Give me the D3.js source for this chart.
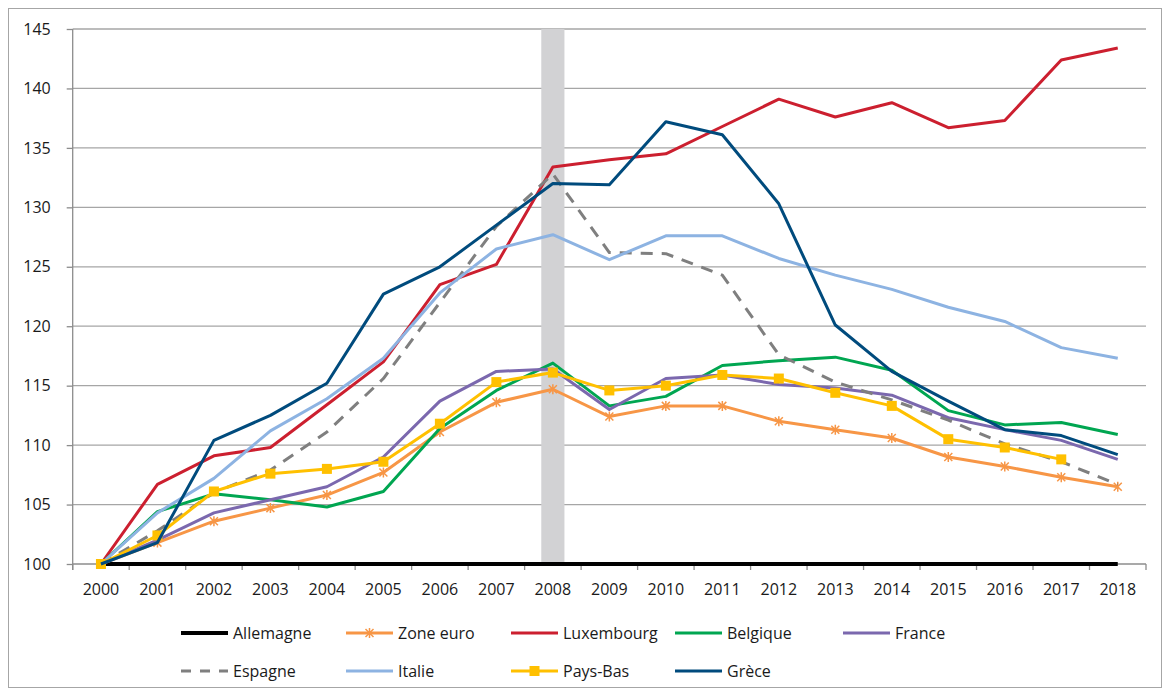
<!DOCTYPE html>
<html>
<head>
<meta charset="utf-8">
<script src="https://cdn.jsdelivr.net/npm/d3@7"></script>
<style>
  body { margin: 0; background: #fff; }
  svg text { font-family: "Open Sans", "Liberation Sans", sans-serif; fill: #1a1a1a; }
</style>
</head>
<body>
<svg width="1164" height="689"></svg>
<script>
var years = d3.range(2000, 2019).map(String);
var yTicks = [100, 105, 110, 115, 120, 125, 130, 135, 140, 145];
var highlightYear = "2008";

var allemagne = [100,100,100,100,100,100,100,100,100,100,100,100,100,100,100,100,100,100,100];
var zoneEuro = [100,101.8,103.6,104.7,105.8,107.7,111.1,113.6,114.7,112.4,113.3,113.3,112.0,111.3,110.6,109.0,108.2,107.3,106.5];
var luxembourg = [100,106.7,109.1,109.8,113.4,117.0,123.5,125.2,133.4,134.0,134.5,136.8,139.1,137.6,138.8,136.7,137.3,142.4,143.4];
var belgique = [100,104.4,105.9,105.4,104.8,106.1,111.4,114.6,116.9,113.3,114.1,116.7,117.1,117.4,116.3,112.9,111.7,111.9,110.9];
var france = [100,102.0,104.3,105.4,106.5,109.0,113.7,116.2,116.4,113.0,115.6,115.9,115.1,114.8,114.2,112.3,111.3,110.4,108.8];
var espagne = [100,102.8,106.0,107.9,111.1,115.6,122.0,128.4,132.8,126.2,126.1,124.3,117.6,115.3,113.8,112.1,110.1,108.6,106.7];
var italie = [100,104.3,107.2,111.2,113.9,117.3,122.8,126.5,127.7,125.6,127.6,127.6,125.7,124.3,123.1,121.6,120.4,118.2,117.3];
var paysBas = [100,102.4,106.1,107.6,108.0,108.6,111.8,115.3,116.1,114.6,115.0,115.9,115.6,114.4,113.3,110.5,109.8,108.8,null];
var grece = [100,101.8,110.4,112.5,115.2,122.7,125.0,128.5,132.0,131.9,137.2,136.1,130.3,120.1,116.2,113.7,111.3,110.8,109.2];

var series = [
  { name: "Allemagne",  values: allemagne,  color: "#000000", width: 4 },
  { name: "Zone euro",  values: zoneEuro,   color: "#F79646", width: 3, marker: "star" },
  { name: "Luxembourg", values: luxembourg, color: "#CC1F2F", width: 3 },
  { name: "Belgique",   values: belgique,   color: "#00A651", width: 3 },
  { name: "France",     values: france,     color: "#7B68AE", width: 3 },
  { name: "Espagne",    values: espagne,    color: "#7F7F7F", width: 3, dash: "12,9" },
  { name: "Italie",     values: italie,     color: "#8DB3E2", width: 3 },
  { name: "Pays-Bas",   values: paysBas,    color: "#FFC000", width: 3, marker: "square" },
  { name: "Grèce",      values: grece,      color: "#004B7D", width: 3 }
];

(function() {
  var svg = d3.select("svg");
  var plotLeft = 72.7, plotRight = 1146, plotTop = 29, plotBottom = 564;

  // chart frame
  svg.append("rect")
    .attr("x", 8.5).attr("y", 8.5).attr("width", 1153).attr("height", 679)
    .attr("fill", "none").attr("stroke", "#a6a6a6").attr("stroke-width", 1);

  var x = d3.scaleBand().domain(years).range([plotLeft, plotRight]);
  var y = d3.scaleLinear().domain([100, 145]).range([plotBottom, plotTop]);
  var cx = function(d) { return x(d) + x.bandwidth() / 2; };

  // gridlines
  svg.append("g")
    .selectAll("line")
    .data(yTicks.slice(1))
    .enter().append("line")
      .attr("x1", plotLeft).attr("x2", plotRight)
      .attr("y1", function(d) { return y(d); })
      .attr("y2", function(d) { return y(d); })
      .attr("stroke", "#a6a6a6").attr("stroke-width", 1.3);

  // 2008 bar
  svg.append("rect")
    .attr("x", cx(highlightYear) - x.bandwidth() * 0.205)
    .attr("width", x.bandwidth() * 0.41)
    .attr("y", y(145))
    .attr("height", y(100) - y(145))
    .attr("fill", "#d2d2d4");

  // y axis
  var yAxis = svg.append("g")
    .attr("transform", "translate(" + plotLeft + ",0)")
    .call(d3.axisLeft(y).tickValues(yTicks).tickSize(6).tickPadding(16));
  yAxis.selectAll("line").attr("stroke", "#8c8c8c").attr("stroke-width", 1.3);
  yAxis.select(".domain").attr("stroke", "#8c8c8c").attr("stroke-width", 1.3)
    .attr("d", "M0," + (plotBottom + 6) + "V" + plotTop);
  yAxis.selectAll("text").attr("font-size", 16).attr("fill", "#1a1a1a");

  // x axis
  var xAxis = svg.append("g")
    .attr("transform", "translate(0," + plotBottom + ")");
  xAxis.append("line")
    .attr("x1", plotLeft).attr("x2", plotRight)
    .attr("stroke", "#8c8c8c").attr("stroke-width", 1.3);
  xAxis.selectAll("line.tick")
    .data(years.concat(["end"]))
    .enter().append("line")
      .attr("class", "tick")
      .attr("x1", function(d, i) { return plotLeft + i * x.bandwidth(); })
      .attr("x2", function(d, i) { return plotLeft + i * x.bandwidth(); })
      .attr("y1", 0).attr("y2", 6)
      .attr("stroke", "#8c8c8c").attr("stroke-width", 1.3);
  xAxis.selectAll("text")
    .data(years)
    .enter().append("text")
      .attr("x", cx)
      .attr("y", 25)
      .attr("dy", "0.35em")
      .attr("text-anchor", "middle")
      .attr("font-size", 16)
      .text(function(d) { return d; });

  var line = d3.line()
    .defined(function(d) { return d != null; })
    .x(function(d, i) { return cx(years[i]); })
    .y(function(d) { return y(d); });

  var starPath = "M0,-5V5M-4,-4L4,4M-4,4L4,-4";

  function drawMarker(g, type, color) {
    if (type === "star") {
      g.append("path").attr("d", starPath)
        .attr("stroke", color).attr("stroke-width", 1.5).attr("fill", "none");
    } else if (type === "square") {
      g.append("rect").attr("x", -5).attr("y", -5).attr("width", 10).attr("height", 10)
        .attr("fill", color);
    }
  }

  var lines = svg.append("g");
  series.forEach(function(s) {
    lines.append("path")
      .attr("d", line(s.values))
      .attr("fill", "none")
      .attr("stroke", s.color)
      .attr("stroke-width", s.width)
      .attr("stroke-linejoin", "round")
      .attr("stroke-dasharray", s.dash || null);
    if (s.marker) {
      s.values.forEach(function(v, i) {
        if (v == null) return;
        var m = lines.append("g")
          .attr("transform", "translate(" + cx(years[i]) + "," + y(v) + ")");
        drawMarker(m, s.marker, s.color);
      });
    }
  });

  // legend
  var legendCols = [181, 346, 511, 675, 843];
  var legendRows = [633, 671];
  var legend = svg.append("g");
  series.forEach(function(s, i) {
    var row = i < 5 ? 0 : 1;
    var col = i < 5 ? i : i - 5;
    var g = legend.append("g")
      .attr("transform", "translate(" + legendCols[col] + "," + legendRows[row] + ")");
    g.append("line")
      .attr("x1", 0).attr("x2", 47)
      .attr("stroke", s.color)
      .attr("stroke-width", s.width)
      .attr("stroke-dasharray", s.dash ? "10,9" : null);
    if (s.marker) {
      var m = g.append("g").attr("transform", "translate(23.5,0)");
      drawMarker(m, s.marker, s.color);
    }
    g.append("text")
      .attr("x", 52)
      .attr("dy", "0.35em")
      .attr("font-size", 16)
      .text(s.name);
  });
})();
</script>
</body>
</html>
